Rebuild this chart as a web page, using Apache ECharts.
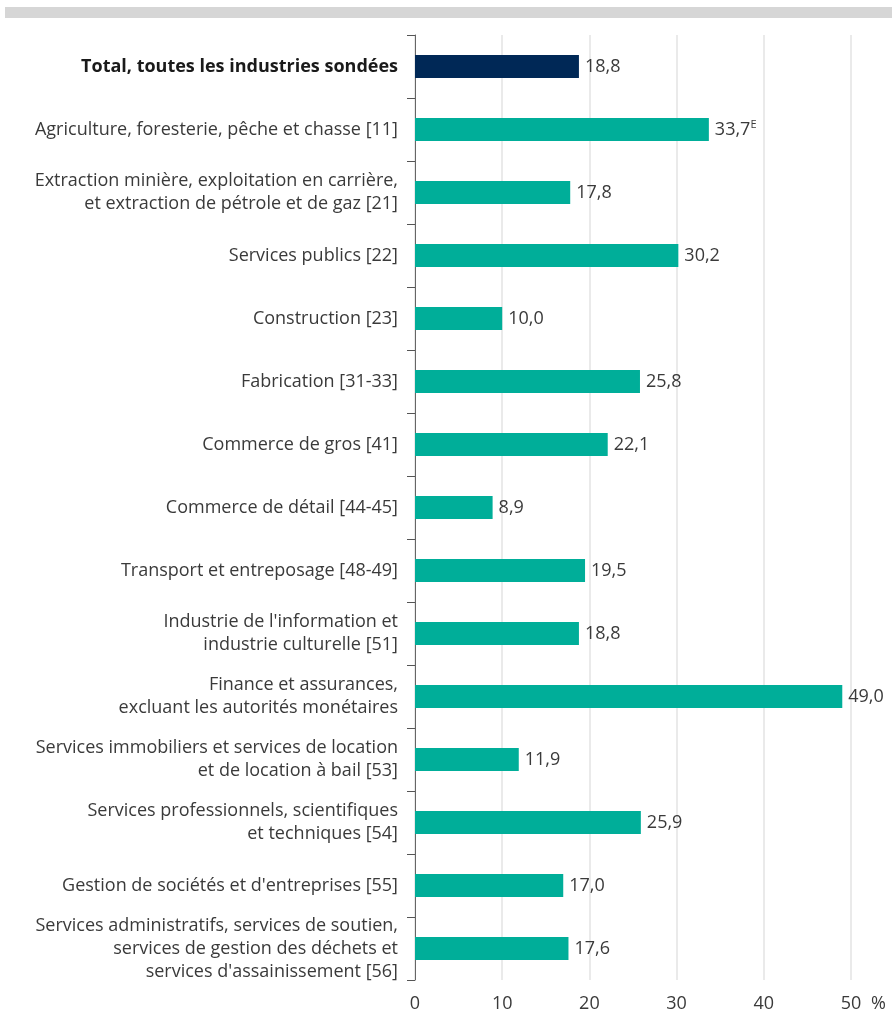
<!DOCTYPE html>
<html><head><meta charset="utf-8">
<script src="https://cdn.jsdelivr.net/npm/echarts@6/dist/echarts.min.js"></script>
<style>html,body{margin:0;padding:0;background:#fff}#c{width:892px;height:1013px}</style>
</head><body><div id="c"></div>
<script>
const categories = [
  "Total, toutes les industries sondées",
  "Agriculture, foresterie, pêche et chasse [11]",
  "Extraction minière, exploitation en carrière,\net extraction de pétrole et de gaz [21]",
  "Services publics [22]",
  "Construction [23]",
  "Fabrication [31-33]",
  "Commerce de gros [41]",
  "Commerce de détail [44-45]",
  "Transport et entreposage [48-49]",
  "Industrie de l'information et\nindustrie culturelle [51]",
  "Finance et assurances,\nexcluant les autorités monétaires",
  "Services immobiliers et services de location\net de location à bail [53]",
  "Services professionnels, scientifiques\net techniques [54]",
  "Gestion de sociétés et d'entreprises [55]",
  "Services administratifs, services de soutien,\nservices de gestion des déchets et\nservices d'assainissement [56]"
];
const values = [18.8, 33.7, 17.8, 30.2, 10.0, 25.8, 22.1, 8.9, 19.5, 18.8, 49.0, 11.9, 25.9, 17.0, 17.6];
const flags = ["", "E", "", "", "", "", "", "", "", "", "", "", "", "", ""];
const xTicks = [0, 10, 20, 30, 40, 50];

const FONT = "'Open Sans', 'Noto Sans', sans-serif";
const chart = echarts.init(document.getElementById('c'));
chart.setOption({
  animation: false,
  graphic: [{type: 'rect', shape: {x: 5, y: 7, width: 887, height: 11}, style: {fill: '#d6d6d6'}}],
  grid: {left: 415, right: 41, top: 35, bottom: 32, containLabel: false},
  xAxis: {
    type: 'value', min: xTicks[0], max: xTicks[xTicks.length - 1], interval: 10,
    name: '%', nameLocation: 'end', nameGap: 20,
    nameTextStyle: {fontFamily: FONT, fontSize: 18, color: '#3a3a3a', verticalAlign: 'top', padding: [15, 0, 0, 0]},
    axisLine: {show: false}, axisTick: {show: false},
    axisLabel: {fontFamily: FONT, fontSize: 18, color: '#3a3a3a', margin: 15},
    splitLine: {show: true, lineStyle: {color: '#e3e3e3', width: 1.5}}
  },
  yAxis: {
    type: 'category', data: categories, inverse: true,
    axisLine: {show: true, lineStyle: {color: '#666', width: 1}},
    axisTick: {show: true, length: 8, lineStyle: {color: '#555'}},
    axisLabel: {
      fontFamily: FONT, fontSize: 18, color: '#3a3a3a', margin: 17, lineHeight: 23, align: 'right',
      formatter: function (v, i) { return i === 0 ? '{b|' + v + '}' : v; },
      rich: {b: {fontFamily: FONT, fontSize: 18, fontWeight: 'bold', color: '#1a1a1a'}}
    }
  },
  series: [{
    type: 'bar', barWidth: 23,
    data: values.map(function (v, i) {
      return {value: v, itemStyle: {color: i === 0 ? '#002856' : '#00ae99'}};
    }),
    label: {
      show: true, position: 'right', distance: 6,
      fontFamily: FONT, fontSize: 18, color: '#3a3a3a',
      formatter: function (p) {
        const s = p.value.toFixed(1).replace('.', ',');
        return flags[p.dataIndex] ? s + '{sup|' + flags[p.dataIndex] + '}' : s;
      },
      rich: {sup: {fontFamily: FONT, fontSize: 11, color: '#3a3a3a', verticalAlign: 'top', padding: [0, 0, 9, 0]}}
    }
  }]
});
</script></body></html>
